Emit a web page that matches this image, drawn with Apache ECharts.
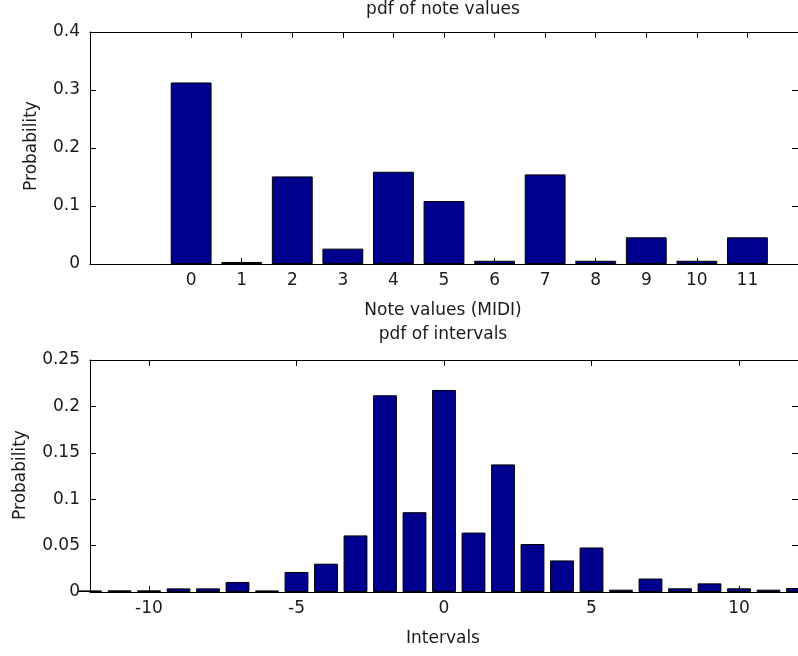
<!DOCTYPE html>
<html>
<head>
<meta charset="utf-8">
<script src="https://cdn.jsdelivr.net/npm/echarts@6/dist/echarts.min.js"></script>
<style>
html,body{margin:0;padding:0;background:#fff;}
#chart{width:798px;height:656px;}
</style>
</head>
<body>
<div id="chart"></div>
<script>
// ---- data ----
var noteValues = [0, 1, 2, 3, 4, 5, 6, 7, 8, 9, 10, 11];
var noteProb = [0.313, 0.0035, 0.151, 0.0265, 0.159, 0.1085, 0.0056, 0.1545, 0.0056, 0.046, 0.0056, 0.046];

var intervalValues = [-12, -11, -10, -9, -8, -7, -6, -5, -4, -3, -2, -1, 0, 1, 2, 3, 4, 5, 6, 7, 8, 9, 10, 11, 12];
var intervalProb = [0.0017, 0.0018, 0.0018, 0.0039, 0.0039, 0.0108, 0.0017, 0.0216, 0.0305, 0.061, 0.212, 0.086, 0.2177, 0.064, 0.1375, 0.0517, 0.034, 0.048, 0.0025, 0.0145, 0.004, 0.0093, 0.004, 0.0025, 0.0043];

var noteTicks = [0, 1, 2, 3, 4, 5, 6, 7, 8, 9, 10, 11];
var intervalTicks = [-10, -5, 0, 5, 10];

// ---- layout ----
var FONT = 'DejaVu Sans';
var FS = 17;
var TXT = '#1a1a1a';
var GL = 90, GW = 715;
var topX = [-2, 12], botX = [-12, 12];

function pairs(xs, ys) { return xs.map(function (x, i) { return [x, ys[i]]; }); }

var lineStyle = { color: '#000', width: 1 };
var tickIn = { show: true, inside: true, length: 6, lineStyle: { color: '#000', width: 1 } };
var lbl = { color: TXT, fontFamily: FONT, fontSize: FS };

function xMain(idx, range, ticks) {
  return {
    type: 'value', gridIndex: idx, min: range[0], max: range[1], position: 'bottom',
    axisLine: { show: true, onZero: false, lineStyle: lineStyle },
    axisTick: Object.assign({ customValues: ticks }, tickIn),
    axisLabel: Object.assign({ customValues: ticks, margin: 8 }, lbl),
    splitLine: { show: false }
  };
}
function xMirror(idx, range, ticks) {
  return {
    type: 'value', gridIndex: idx, min: range[0], max: range[1], position: 'top',
    axisLine: { show: true, onZero: false, lineStyle: lineStyle },
    axisTick: Object.assign({ customValues: ticks }, tickIn),
    axisLabel: { show: false },
    splitLine: { show: false }
  };
}
function yMain(idx, max, interval) {
  return {
    type: 'value', gridIndex: idx, min: 0, max: max, interval: interval, position: 'left',
    axisLine: { show: true, onZero: false, lineStyle: lineStyle },
    axisTick: tickIn,
    axisLabel: Object.assign({ margin: 10 }, lbl),
    splitLine: { show: false }
  };
}
function yMirror(idx, max, interval) {
  return {
    type: 'value', gridIndex: idx, min: 0, max: max, interval: interval, position: 'right',
    axisLine: { show: true, onZero: false, lineStyle: lineStyle },
    axisTick: tickIn,
    axisLabel: { show: false },
    splitLine: { show: false }
  };
}

var barStyle = { color: '#00008F', borderColor: '#000', borderWidth: 1 };

function txt(x, y, s, rot) {
  return {
    type: 'text', x: x, y: y, rotation: rot || 0,
    style: { text: s, fill: TXT, font: FS + 'px "' + FONT + '"', align: 'center', verticalAlign: 'middle' },
    silent: true
  };
}

var chart = echarts.init(document.getElementById('chart'), null, { renderer: 'canvas' });
chart.setOption({
  animation: false,
  backgroundColor: '#fff',
  grid: [
    { left: GL, top: 32, width: GW, height: 232 },
    { left: GL, top: 360, width: GW, height: 232 }
  ],
  xAxis: [
    xMain(0, topX, noteTicks), xMirror(0, topX, noteTicks),
    xMain(1, botX, intervalTicks), xMirror(1, botX, intervalTicks)
  ],
  yAxis: [
    yMain(0, 0.4, 0.1), yMirror(0, 0.4, 0.1),
    yMain(1, 0.25, 0.05), yMirror(1, 0.25, 0.05)
  ],
  series: [
    {
      type: 'bar', xAxisIndex: 0, yAxisIndex: 0,
      data: pairs(noteValues, noteProb),
      barWidth: 0.8 * GW / (topX[1] - topX[0]),
      itemStyle: barStyle, clip: true
    },
    {
      type: 'bar', xAxisIndex: 2, yAxisIndex: 2,
      data: pairs(intervalValues, intervalProb),
      barWidth: 0.8 * GW / (botX[1] - botX[0]),
      itemStyle: barStyle, clip: true
    }
  ],
  graphic: [
    txt(443, 10, 'pdf of note values'),
    txt(443, 311, 'Note values (MIDI)'),
    txt(443, 335, 'pdf of intervals'),
    txt(443, 639, 'Intervals'),
    txt(32, 146, 'Probability', Math.PI / 2),
    txt(21, 475, 'Probability', Math.PI / 2)
  ]
});
</script>
</body>
</html>
